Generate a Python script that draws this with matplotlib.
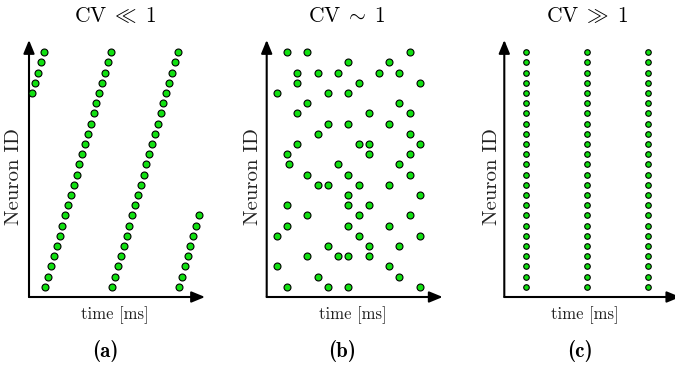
import os
import matplotlib as mpl
import matplotlib.pyplot as plt
from matplotlib.font_manager import FontProperties

plt.rcParams["mathtext.fontset"] = "cm"

# Computer Modern faces shipped with matplotlib
CM_DIR = os.path.join(mpl.get_data_path(), "fonts", "ttf")

# ── Data ─────────────────────────────────────────────────────────────────────
neuron_ids = list(range(24))

# (a) regular travelling waves: spike times per wave, starting at a given neuron
a_wave_first = [19, 0, 0, 0]
a_wave_times = [
    [1.0, 1.9, 2.8, 3.6, 4.5],
    [4.9, 5.75, 6.6, 7.45, 8.3, 9.15, 10.0, 10.9, 11.7, 12.6, 13.4, 14.3,
     15.1, 16.0, 16.8, 17.7, 18.5, 19.4, 20.2, 21.1, 21.9, 22.8, 23.6, 24.5],
    [25.0, 25.85, 26.7, 27.55, 28.4, 29.3, 30.1, 31.0, 31.8, 32.7, 33.5, 34.4,
     35.2, 36.1, 36.9, 37.8, 38.6, 39.5, 40.3, 41.2, 42.0, 42.9, 43.8, 44.6],
    [45.0, 45.85, 46.7, 47.55, 48.4, 49.3, 50.1, 51.0],
]

# (b) irregular (Poisson-like) firing: spike times for each neuron
b_spike_times = [
    [6.1, 18.4, 24.5, 46.0],
    [15.3, 39.8],
    [3.0, 36.8],
    [12.2, 21.4, 24.5, 30.6],
    [18.4, 30.6, 39.8],
    [3.0, 27.6, 46.0],
    [6.1, 24.5, 36.8],
    [12.2, 27.6, 42.9],
    [6.1, 24.5, 30.6],
    [24.5, 46.0],
    [15.3, 18.4, 27.6, 36.8],
    [12.2, 24.5, 42.9],
    [6.7, 21.4, 39.8],
    [6.1, 30.6, 42.9],
    [9.1, 27.6, 30.6, 46.0],
    [15.3, 42.9],
    [18.4, 24.5, 36.8],
    [9.1, 30.6, 42.9],
    [12.2, 39.8],
    [3.0, 18.4, 24.5],
    [9.1, 27.6, 46.0],
    [9.1, 15.3, 21.4, 33.7, 39.8],
    [24.5, 36.8],
    [6.1, 12.2, 42.9],
]

# (c) synchronous bursts: every neuron fires at these times
c_burst_times = [6.6, 24.8, 43.2]

titles = [r"$\mathrm{CV}\;\ll\;1$", r"$\mathrm{CV}\;\sim\;1$", r"$\mathrm{CV}\;\gg\;1$"]
panel_tags = ["(a)", "(b)", "(c)"]

# ── Layout (pixels) ──────────────────────────────────────────────────────────
W, H = 675, 365
X_MAX, Y_MIN, Y_MAX = 52.8, -1.0, 24.2
axes_left = [29, 266.7, 504.3]
title_x = [115, 347, 587]
xlabel_x = [115, 353, 585]
tag_x = [105, 342, 580]
ylabel_x = [14, 253, 492]
GREEN = "#11e011"

cm_roman = FontProperties(fname=os.path.join(CM_DIR, "cmr10.ttf"))
cm_bold = FontProperties(fname=os.path.join(CM_DIR, "cmb10.ttf"))

fig = plt.figure(figsize=(W / 100, H / 100), dpi=100)


def fx(x):
    return x / W


def fy(y):
    return 1 - y / H


def draw_axes(ax):
    ax.set_xlim(0, X_MAX)
    ax.set_ylim(Y_MIN, Y_MAX)
    ax.axis("off")
    style = dict(arrowstyle="-|>,head_length=0.8,head_width=0.33",
                 lw=1.5, color="k", shrinkA=0, shrinkB=0)
    ax.annotate("", xy=(X_MAX, Y_MIN), xytext=(0, Y_MIN),
                arrowprops=style, annotation_clip=False)
    ax.annotate("", xy=(0, Y_MAX), xytext=(0, Y_MIN),
                arrowprops=style, annotation_clip=False)


axes = []
for left in axes_left:
    ax = fig.add_axes([fx(left), fy(297), 176 / W, 257 / H])
    draw_axes(ax)
    axes.append(ax)

# (a)
for first, times in zip(a_wave_first, a_wave_times):
    ids = neuron_ids[first:first + len(times)]
    axes[0].scatter(times, ids, s=25, c=GREEN, edgecolors="k",
                    linewidths=0.8, clip_on=False, zorder=3)

# (b)
for nid, times in zip(neuron_ids, b_spike_times):
    axes[1].scatter(times, [nid] * len(times), s=25, c=GREEN, edgecolors="k",
                    linewidths=0.8, clip_on=False, zorder=3)

# (c)
for t in c_burst_times:
    axes[2].scatter([t] * len(neuron_ids), neuron_ids, s=16, c=GREEN,
                    edgecolors="k", linewidths=0.8, clip_on=False, zorder=3)

for i in range(3):
    fig.text(fx(title_x[i]), fy(16), titles[i], fontsize=15.5,
             ha="center", va="center")
    fig.text(fx(xlabel_x[i]), fy(315), "time [ms]", fontproperties=cm_roman,
             fontsize=12, ha="center", va="center", color="#222222")
    fig.text(fx(tag_x[i]), fy(351), panel_tags[i], fontproperties=cm_bold,
             fontsize=15, ha="center", va="center")
    fig.text(fx(ylabel_x[i]), fy(177), "Neuron ID", fontproperties=cm_roman,
             fontsize=15, ha="center", va="center", rotation=90,
             color="#222222")

fig.savefig("out.png", dpi=100)
